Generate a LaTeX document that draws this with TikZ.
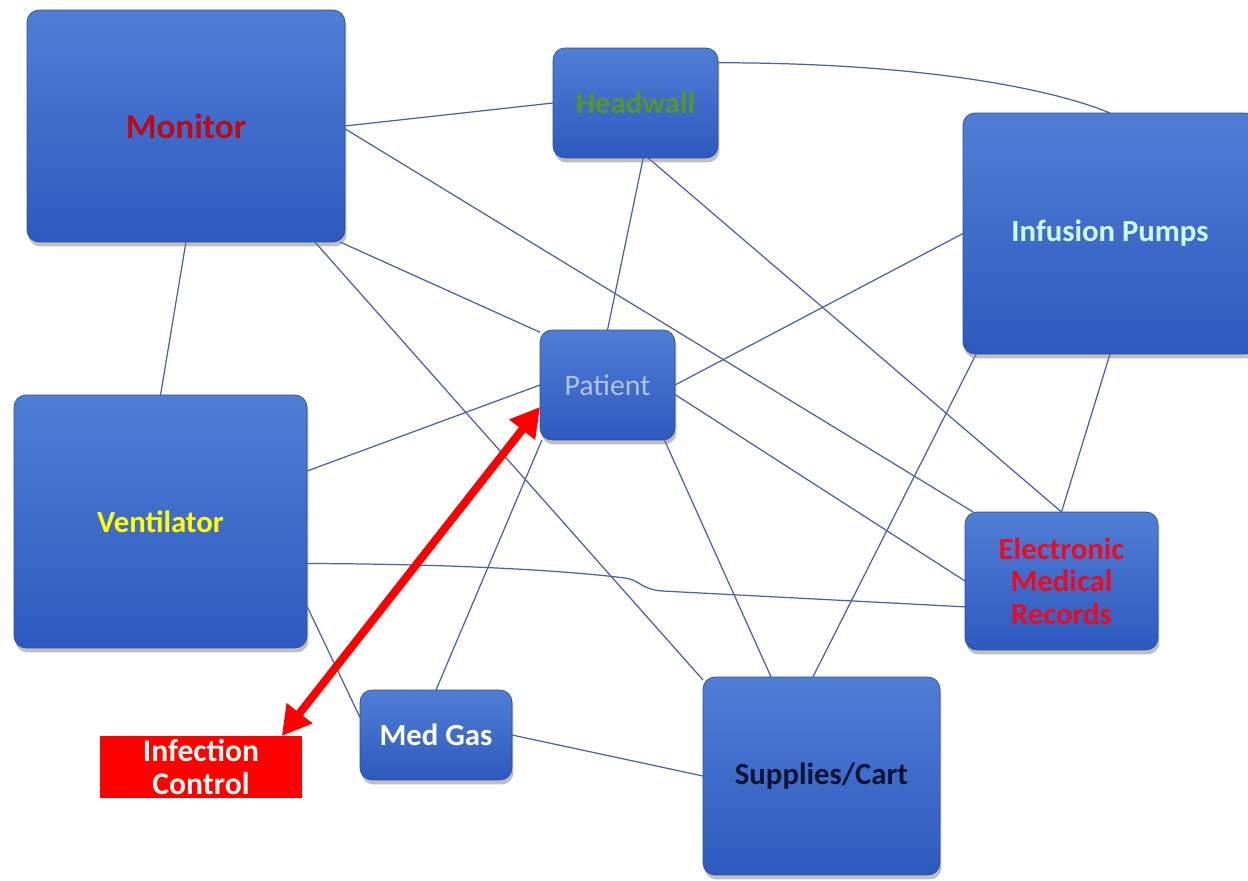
\documentclass[tikz,border=0pt]{standalone}
\usepackage{fontspec}
\setmainfont{Carlito}
\usepackage{tikz}
\usetikzlibrary{shadows,arrows.meta,backgrounds}
\definecolor{boxtop}{RGB}{80,126,214}
\definecolor{boxbot}{RGB}{46,90,192}
\definecolor{boxedge}{RGB}{42,78,160}
\definecolor{wirecol}{RGB}{74,96,170}

\begin{document}
\begin{tikzpicture}[x=0.02cm, y=-0.02cm,
		blk/.style={rectangle, rounded corners=0.24cm, draw=boxedge, line width=0.4pt,
			top color=boxtop, bottom color=boxbot,
			drop shadow={shadow xshift=0.03cm, shadow yshift=-0.09cm, opacity=0.5},
			inner sep=0pt, outer sep=0pt, align=center,
			font=\fontsize{17.5}{18.5}\selectfont\bfseries},
		wire/.style={draw=wirecol, line width=0.7pt}]
	\useasboundingbox (0,0) rectangle (1248,881);

	% boxes
	\node[blk, minimum width=6.36cm, minimum height=4.64cm, text={rgb,255:red,190;green,10;blue,20},
		font=\fontsize{20}{22}\selectfont\bfseries] (monitor) at (186,126) {Monitor};
	\node[blk, minimum width=3.3cm, minimum height=2.2cm, text={rgb,255:red,84;green,150;blue,40}] (headwall) at (635.5,103) {Headwall};
	\node[blk, minimum width=5.88cm, minimum height=4.82cm, text={rgb,255:red,204;green,250;blue,255}] (pumps) at (1110,233.5) {Infusion Pumps};
	\node[blk, minimum width=2.7cm, minimum height=2.2cm, text={rgb,255:red,175;green,195;blue,235},
		font=\fontsize{17}{19}\selectfont] (patient) at (607.5,385) {Patient};
	\node[blk, minimum width=5.86cm, minimum height=5.06cm, text={rgb,255:red,255;green,255;blue,0}] (vent) at (160.5,521.5) {Ventilator};
	\node[blk, minimum width=3.86cm, minimum height=2.76cm, text={rgb,255:red,240;green,10;blue,30}] (emr) at (1061.5,581) {Electronic\\Medical\\Records};
	\node[blk, minimum width=3.04cm, minimum height=1.8cm, text=white] (medgas) at (436,735) {Med Gas};
	\node[blk, minimum width=4.74cm, minimum height=3.96cm, text={rgb,255:red,10;green,20;blue,50}] (cart) at (821.5,776) {Supplies/Cart};
	\node[rectangle, fill={rgb,255:red,255;green,0;blue,0}, minimum width=4.04cm, minimum height=1.24cm,
		inner sep=0pt, outer sep=0pt, align=center, text={rgb,255:red,255;green,250;blue,240},
		font=\fontsize{18}{19.3}\selectfont\bfseries] (infect) at (201,767) {Infection\\Control};

	% connectors
	\begin{pgfonlayer}{background}
		\draw[wire] (monitor.east) -- (headwall.west);
		\draw[wire] (monitor.-1) -- (emr.142);
		\draw[wire] (monitor.-37) -- (patient.142);
		\draw[wire] (monitor.-42) -- (cart.141);
		\draw[wire] (monitor.south) -- (vent.north);
		\draw[wire] (headwall.26) .. controls +(200,0) and +(-60,-25) .. (pumps.north);
		\draw[wire] (headwall.-82) -- (patient.north);
		\draw[wire] (headwall.-77) -- (emr.north);
		\draw[wire] (patient.east) -- (pumps.west);
		\draw[wire] (patient.-8) -- (emr.west);
		\draw[wire] (patient.-44) -- (cart.117);
		\draw[wire] (patient.west) -- (vent.19);
		\draw[wire] (patient.-140) -- (medgas.north);
		\draw[wire] (vent.-16) .. controls (450,564) and (560,570) .. (625,578)
			.. controls (640,580) and (640,589) .. (662,591) -- (emr.195);
		\draw[wire] (vent.-30) -- (medgas.167);
		\draw[wire] (medgas.east) -- (cart.west);
		\draw[wire] (cart.95) -- (pumps.-138);
		\draw[wire] (pumps.south) -- (emr.north);
	\end{pgfonlayer}

	\draw[{Triangle[length=0.58cm,width=0.62cm]}-{Triangle[length=0.58cm,width=0.62cm]},
		draw={rgb,255:red,255;green,0;blue,0}, line width=0.16cm] (patient.198) -- (infect.21);
\end{tikzpicture}
\end{document}
